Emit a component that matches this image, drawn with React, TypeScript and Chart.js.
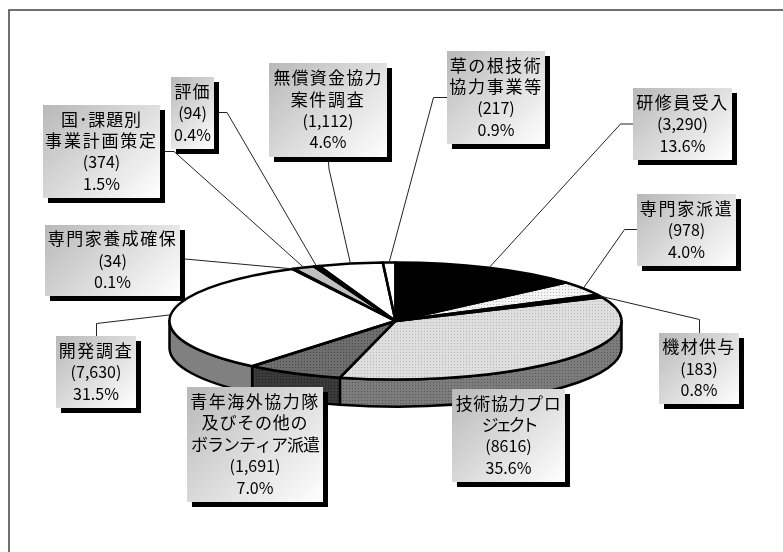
import React, { useEffect, useRef } from "react";
import { Chart, registerables } from "chart.js";

Chart.register(...registerables);

// ---- data (clockwise from 12 o'clock) ----
const names = [
  ["研修員受入"],
  ["専門家派遣"],
  ["機材供与"],
  ["技術協力プロ", "ジェクト"],
  ["青年海外協力隊", "及びその他の", "ボランティア派遣"],
  ["開発調査"],
  ["専門家養成確保"],
  ["国･課題別", "事業計画策定"],
  ["評価"],
  ["無償資金協力", "案件調査"],
  ["草の根技術", "協力事業等"],
];
const values = [3290, 978, 183, 8616, 1691, 7630, 34, 374, 94, 1112, 217];
const valueTexts = ["(3,290)", "(978)", "(183)", "(8616)", "(1,691)", "(7,630)", "(34)", "(374)", "(94)", "(1,112)", "(217)"];
const shares = ["13.6%", "4.0%", "0.8%", "35.6%", "7.0%", "31.5%", "0.1%", "1.5%", "0.4%", "4.6%", "0.9%"];

// ---- layout ----
const W = 783;
const H = 552;
const CY_TARGET = 321;
const CY_CHART = 276;
const SQUASH = 58.5 / 226;
const DEPTH = 27;

// rendered width of each name line, in px
const nameWidths = [
  [91],
  [92],
  [72],
  [105, 57],
  [128, 106, 129],
  [73],
  [128],
  [80, 111],
  [35],
  [108, 73],
  [91, 92],
];
// label boxes: x0, y0, x1, y1
const boxes = [
  [633, 88, 732, 160],
  [637, 194, 736, 266],
  [659, 333, 739, 404],
  [452, 389, 565, 482],
  [187, 387, 323, 502],
  [56, 336, 136, 408],
  [45, 225, 180, 296],
  [43, 105, 160, 198],
  [171, 77, 214, 149],
  [269, 63, 387, 157],
  [447, 51, 545, 144],
];
// leader points from label towards the slice (the last point is computed from the arc)
const leaders: (number[][] | null)[] = [
  [[633, 124], [620.5, 124]],
  [[637, 229.5], [624.5, 229.5]],
  [[699.5, 333], [699.5, 319.5]],
  null,
  null,
  [[96.5, 336], [96.5, 323.5]],
  [[185, 259]],
  [[165, 151.5], [174, 151.5]],
  [[219, 112.5], [227, 112.5]],
  [[328.5, 162], [329, 169]],
  [[447, 97.5], [433.5, 97.5]],
];

function makePattern(base: string, dot: string, squashed: boolean) {
  const c = document.createElement("canvas");
  c.width = 3;
  c.height = 3;
  const g = c.getContext("2d")!;
  g.fillStyle = base;
  g.fillRect(0, 0, 3, 3);
  g.fillStyle = dot;
  g.fillRect(1, 1, 1, 1);
  const p = g.createPattern(c, "repeat")!;
  if (squashed) {
    // undo the pie's squash so that the dots stay square and pixel-aligned
    p.setTransform(new DOMMatrix().scale(1, 1 / SQUASH).translate(0, CY_CHART * SQUASH - CY_TARGET));
  }
  return p;
}

const topFills = () => [
  "#000000",
  makePattern("#f4f4f4", "#b8b8b8", true),
  "#000000",
  makePattern("#dedede", "#b4b4b4", true),
  makePattern("#6e6e6e", "#484848", true),
  "#ffffff",
  "#ffffff",
  "#c0c0c0",
  "#000000",
  "#ffffff",
  "#ffffff",
];
const sideFills = (): Record<number, string | CanvasPattern> => ({
  3: makePattern("#7c7c7c", "#585858", false),
  4: makePattern("#3a3a3a", "#202020", false),
  5: "#808080",
});

const FONT = '"Noto Sans CJK JP", sans-serif';

function pieGeometry(chart: any) {
  return chart.getDatasetMeta(0).data.map((a: any) => {
    const p = a.getProps(["x", "startAngle", "endAngle", "outerRadius"], true);
    return { cx: p.x, cy: CY_TARGET, rx: p.outerRadius, ry: p.outerRadius * SQUASH, start: p.startAngle, end: p.endAngle };
  });
}

function pseudo3d(sides: Record<number, string | CanvasPattern>) {
  return {
    id: "pseudo3d",
    beforeDraw(chart: any) {
      const ctx = chart.ctx;
      ctx.save();
      ctx.fillStyle = "#ffffff";
      ctx.fillRect(0, 0, W, H);
      ctx.strokeStyle = "#404040";
      ctx.lineWidth = 1.5;
      ctx.beginPath();
      ctx.moveTo(9, H);
      ctx.lineTo(9, 10);
      ctx.lineTo(W, 10);
      ctx.stroke();
      ctx.restore();
    },
    beforeDatasetsDraw(chart: any) {
      const ctx = chart.ctx;
      ctx.save();
      ctx.lineWidth = 2.5;
      ctx.strokeStyle = "#000";
      ctx.lineJoin = "round";
      pieGeometry(chart).forEach((g: any, i: number) => {
        const a = Math.max(g.start, 0);
        const b = Math.min(g.end, Math.PI);
        if (b <= a) return;
        ctx.beginPath();
        ctx.ellipse(g.cx, g.cy, g.rx, g.ry, 0, a, b);
        ctx.ellipse(g.cx, g.cy + DEPTH, g.rx, g.ry, 0, b, a, true);
        ctx.closePath();
        ctx.fillStyle = sides[i] ?? "#808080";
        ctx.fill();
        ctx.stroke();
      });
      ctx.restore();
      // squash the round pie the library draws into the tilted ellipse
      ctx.save();
      ctx.translate(0, CY_TARGET);
      ctx.scale(1, SQUASH);
      ctx.translate(0, -CY_CHART);
    },
    afterDatasetsDraw(chart: any) {
      const ctx = chart.ctx;
      ctx.restore();
      const geo = pieGeometry(chart);

      ctx.save();
      ctx.lineWidth = 2.5;
      ctx.strokeStyle = "#000";
      ctx.lineJoin = "round";
      geo.forEach((g: any) => {
        ctx.beginPath();
        ctx.moveTo(g.cx, g.cy);
        ctx.ellipse(g.cx, g.cy, g.rx, g.ry, 0, g.start, g.end);
        ctx.closePath();
        ctx.stroke();
      });
      ctx.restore();

      // leaders
      ctx.save();
      ctx.lineWidth = 1;
      ctx.strokeStyle = "#222";
      leaders.forEach((pts, i) => {
        if (!pts) return;
        const g = geo[i];
        const mid = (g.start + g.end) / 2;
        ctx.beginPath();
        pts.forEach((p, k) => (k ? ctx.lineTo(p[0], p[1]) : ctx.moveTo(p[0], p[1])));
        ctx.lineTo(g.cx + g.rx * Math.cos(mid), g.cy + g.ry * Math.sin(mid));
        ctx.stroke();
      });
      ctx.restore();

      // label boxes
      ctx.save();
      boxes.forEach((b, i) => {
        const [x0, y0, x1, y1] = b;
        ctx.fillStyle = "#000";
        ctx.fillRect(x0 + 5, y0 + 5, x1 - x0, y1 - y0);
        const d = (x1 - x0 + (y1 - y0)) / 2;
        const cx = (x0 + x1) / 2;
        const cy = (y0 + y1) / 2;
        const grad = ctx.createLinearGradient(cx - d / 2, cy - d / 2, cx + d / 2, cy + d / 2);
        grad.addColorStop(0, "#b8b8b8");
        grad.addColorStop(1, "#ffffff");
        ctx.fillStyle = grad;
        ctx.fillRect(x0, y0, x1 - x0, y1 - y0);

        const lines = [...names[i], valueTexts[i], shares[i]];
        const step = 21.5;
        const startY = cy - ((lines.length - 1) * step) / 2;
        ctx.textAlign = "center";
        ctx.textBaseline = "middle";
        ctx.fillStyle = "#000";
        lines.forEach((t, k) => {
          const isName = k < names[i].length;
          ctx.font = `${isName ? 17 : 16}px ${FONT}`;
          (ctx as any).letterSpacing = "0px";
          if (isName) {
            const n = Array.from(t).length;
            const s = (nameWidths[i][k] - ctx.measureText(t).width) / (n - 1);
            (ctx as any).letterSpacing = `${s}px`;
          }
          ctx.fillText(t, cx, startY + k * step);
        });
        (ctx as any).letterSpacing = "0px";
      });
      ctx.restore();
    },
  };
}

export default function App() {
  const ref = useRef<HTMLCanvasElement>(null);
  useEffect(() => {
    const chart = new Chart(ref.current!, {
      type: "doughnut",
      data: {
        labels: names.map((n) => n.join("")),
        datasets: [{ data: values, backgroundColor: topFills() as any, borderWidth: 0, clip: false as any }],
      },
      options: {
        responsive: false,
        animation: false,
        cutout: 0,
        events: [],
        layout: { padding: { left: 169.5, right: 161.5, top: 50, bottom: 50 } },
        plugins: { legend: { display: false }, tooltip: { enabled: false } },
      },
      plugins: [pseudo3d(sideFills())],
    } as any);
    return () => chart.destroy();
  }, []);
  return (
    <div style={{ position: "absolute", left: 0, top: 0, width: W, height: H }}>
      <canvas ref={ref} width={W} height={H} style={{ display: "block" }} />
    </div>
  );
}
